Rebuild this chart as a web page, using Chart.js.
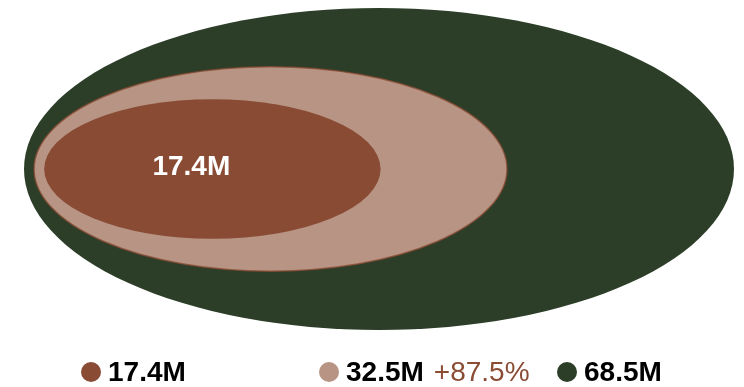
<!DOCTYPE html>
<html>
<head>
<meta charset="utf-8">
<script src="https://cdn.jsdelivr.net/npm/chart.js@4"></script>
<style>
  body { margin: 0; background: #fff; }
  #wrap { position: relative; width: 744px; height: 387px; overflow: hidden; }
  #nestChart { position: absolute; left: 0; top: 0; }
  #legend {
    position: absolute; left: 81px; top: 356px; display: flex;
    font-family: "Liberation Sans", Arial, Helvetica, sans-serif;
    font-size: 28px; line-height: 32px; white-space: nowrap;
  }
  #legend .item { display: flex; align-items: center; width: 238px; }
  #legend .item:last-child { width: auto; }
  #legend .dot { width: 20px; height: 20px; border-radius: 50%; margin-right: 7px; flex: none; }
  #legend .val { font-weight: bold; color: #000; }
  #legend .chg { color: #8b4c34; margin-left: 10px; }
</style>
</head>
<body>
<div id="wrap">
  <canvas id="nestChart" width="744" height="387"></canvas>
  <div id="legend"></div>
</div>
<script>
// audience sizes, smallest first
const labels = ['17.4M', '32.5M', '68.5M'];
const values = [17.4, 32.5, 68.5];
const changes = [null, '+87.5%', null];
const colors = ['#894b33', '#b79484', '#2c3d28'];

const INSET = 0.0142;   // left gap between nested ellipses (x units)
const EXP_W = 0.545;    // width grows with value^EXP_W
const EXP_H = 0.61;     // height grows with value^EXP_H

const vMax = Math.max(...values);
const order = values.map((v, i) => i).sort((a, b) => values[b] - values[a]);

// each ellipse as a box in data units, biggest one fills the plot
const boxes = values.map((v, i) => {
  const level = order.indexOf(i);
  const w = Math.pow(v / vMax, EXP_W);
  const h = Math.pow(v / vMax, EXP_H);
  const left = level * INSET;
  return { x0: left, x1: left + w, y0: 0.5 - h / 2, y1: 0.5 + h / 2 };
});

const nestedEllipses = {
  id: 'nestedEllipses',
  beforeDatasetsDraw(chart) {
    const { ctx, scales: { x, y } } = chart;
    ctx.save();
    order.forEach(i => {
      const ds = chart.data.datasets[i];
      const b = ds.box;
      const px0 = x.getPixelForValue(b.x0), px1 = x.getPixelForValue(b.x1);
      const py0 = y.getPixelForValue(b.y1), py1 = y.getPixelForValue(b.y0);
      ctx.beginPath();
      ctx.ellipse((px0 + px1) / 2, (py0 + py1) / 2, (px1 - px0) / 2, (py1 - py0) / 2, 0, 0, Math.PI * 2);
      ctx.fillStyle = ds.backgroundColor;
      ctx.fill();
      if (ds.borderWidth) {
        ctx.lineWidth = ds.borderWidth;
        ctx.strokeStyle = ds.borderColor;
        ctx.stroke();
      }
    });
    // value label inside the smallest ellipse
    const s = order[order.length - 1];
    const b = chart.data.datasets[s].box;
    const px0 = x.getPixelForValue(b.x0), px1 = x.getPixelForValue(b.x1);
    const rx = (px1 - px0) / 2;
    ctx.fillStyle = '#fff';
    ctx.font = 'bold 28px "Liberation Sans", Arial, sans-serif';
    ctx.textAlign = 'center';
    ctx.textBaseline = 'middle';
    ctx.fillText(labels[s], px0 + rx * 0.875, y.getPixelForValue(0.5) - 2);
    ctx.restore();
  }
};

new Chart(document.getElementById('nestChart'), {
  type: 'scatter',
  data: {
    datasets: values.map((v, i) => ({
      label: labels[i],
      data: [{ x: (boxes[i].x0 + boxes[i].x1) / 2, y: 0.5 }],
      box: boxes[i],
      backgroundColor: colors[i],
      borderColor: 'rgba(137,75,51,0.75)',
      borderWidth: i === 1 ? 1.5 : 0,
      pointRadius: 0
    }))
  },
  options: {
    responsive: false,
    animation: false,
    layout: { padding: { left: 24, right: 10, top: 8, bottom: 57 } },
    scales: {
      x: { type: 'linear', min: 0, max: 1, display: false },
      y: { type: 'linear', min: 0, max: 1, display: false }
    },
    plugins: { legend: { display: false }, tooltip: { enabled: false } }
  },
  plugins: [nestedEllipses]
});

// legend row, the middle entry also shows its change
const legendEl = document.getElementById('legend');
labels.forEach((lab, i) => {
  const item = document.createElement('div');
  item.className = 'item';
  item.innerHTML = '<span class="dot" style="background:' + colors[i] + '"></span>' +
    '<span class="val">' + lab + '</span>' +
    (changes[i] ? '<span class="chg">' + changes[i] + '</span>' : '');
  legendEl.appendChild(item);
});
</script>
</body>
</html>
